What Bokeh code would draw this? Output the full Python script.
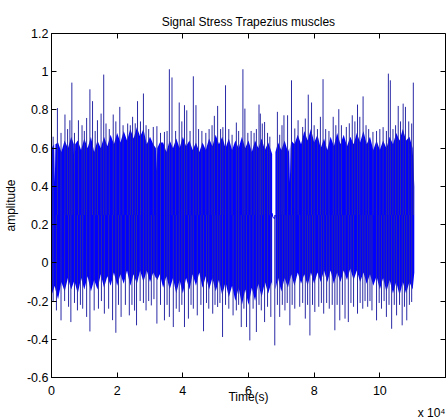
from bokeh.plotting import figure
from bokeh.models import Range1d, FixedTicker, LinearAxis, Title
from bokeh.embed import file_html
from bokeh.resources import INLINE

# ---- data (time in units of 10^4 samples) ----
title_text = "Signal Stress Trapezius muscles"
x_ticks = [0, 2, 4, 6, 8, 10, 12]
x_tick_labels = ["0", "2", "4", "6", "8", "10", ""]
y_ticks = [-0.6, -0.4, -0.2, 0, 0.2, 0.4, 0.6, 0.8, 1, 1.2]
y_tick_labels = ["-0.6", "-0.4", "-0.2", "0", "0.2", "0.4", "0.6", "0.8", "1", "1.2"]
x_multiplier_text = "x 10\u2074"

signal_mean = 0.25

# dense body of the signal, before the interruption
core1_t = [0.0, 0.08, 0.1, 0.12, 0.2, 0.3, 0.4, 0.5, 0.6, 0.68, 0.7, 0.72, 0.8, 0.9,
           1.0, 1.1, 1.2, 1.3, 1.4, 1.5, 1.6, 1.7, 1.8, 1.9,
           2.0, 2.1, 2.2, 2.3, 2.4, 2.5, 2.6, 2.7, 2.8, 2.9,
           3.0, 3.1, 3.18, 3.2, 3.22, 3.3, 3.4, 3.5, 3.6, 3.7, 3.8, 3.9,
           4.0, 4.1, 4.2, 4.3, 4.4, 4.5, 4.6, 4.7, 4.8, 4.9,
           5.0, 5.1, 5.2, 5.3, 5.4, 5.5, 5.6, 5.7, 5.8, 5.9,
           6.0, 6.1, 6.2, 6.3, 6.4, 6.5, 6.6, 6.7, 6.72]
core1_hi = [0.60, 0.62, 0.42, 0.62, 0.63, 0.58, 0.64, 0.60, 0.66, 0.62, 0.40, 0.62, 0.64, 0.59,
            0.65, 0.60, 0.66, 0.58, 0.64, 0.60, 0.66, 0.61, 0.67, 0.62,
            0.68, 0.63, 0.69, 0.64, 0.70, 0.65, 0.71, 0.66, 0.70, 0.62,
            0.66, 0.62, 0.60, 0.48, 0.60, 0.63, 0.63, 0.58, 0.64, 0.60, 0.65, 0.60,
            0.66, 0.61, 0.64, 0.59, 0.63, 0.58, 0.63, 0.59, 0.65, 0.61,
            0.67, 0.62, 0.66, 0.60, 0.65, 0.59, 0.64, 0.60, 0.66, 0.60,
            0.64, 0.58, 0.64, 0.60, 0.65, 0.59, 0.63, 0.58, 0.57]
core1_lo = [-0.17, -0.13, -0.12, -0.14, -0.19, -0.10, -0.15, -0.08, -0.14, -0.10, -0.09, -0.11, -0.16, -0.08,
            -0.14, -0.07, -0.15, -0.09, -0.14, -0.06, -0.13, -0.07, -0.12, -0.05,
            -0.12, -0.06, -0.11, -0.04, -0.12, -0.06, -0.11, -0.04, -0.10, -0.04,
            -0.10, -0.05, -0.08, -0.08, -0.09, -0.06, -0.13, -0.07, -0.14, -0.08, -0.16, -0.09,
            -0.16, -0.08, -0.14, -0.06, -0.12, -0.05, -0.13, -0.07, -0.14, -0.08,
            -0.15, -0.09, -0.17, -0.10, -0.18, -0.12, -0.20, -0.13, -0.22, -0.14,
            -0.22, -0.13, -0.20, -0.11, -0.18, -0.10, -0.16, -0.10, -0.12]
# dense body after the interruption
core2_t = [6.82, 6.9,
           7.0, 7.1, 7.2, 7.24, 7.26, 7.28, 7.3, 7.4, 7.5, 7.6, 7.7, 7.8, 7.9,
           8.0, 8.1, 8.2, 8.3, 8.4, 8.5, 8.6, 8.7, 8.8, 8.9,
           9.0, 9.1, 9.2, 9.3, 9.4, 9.5, 9.6, 9.7, 9.8, 9.9,
           10.0, 10.1, 10.2, 10.3, 10.4, 10.5, 10.6, 10.7, 10.8, 10.9,
           11.0, 11.05]
core2_hi = [0.58, 0.63,
            0.59, 0.64, 0.58, 0.60, 0.42, 0.60, 0.64, 0.62, 0.67, 0.62, 0.69, 0.64, 0.70,
            0.63, 0.67, 0.60, 0.65, 0.59, 0.66, 0.61, 0.68, 0.62, 0.67,
            0.61, 0.66, 0.62, 0.68, 0.63, 0.69, 0.62, 0.66, 0.59, 0.64,
            0.59, 0.64, 0.60, 0.66, 0.62, 0.68, 0.64, 0.70, 0.64, 0.66,
            0.60, 0.40]
core2_lo = [-0.14, -0.08,
            -0.15, -0.08, -0.13, -0.10, -0.09, -0.08, -0.06, -0.12, -0.05, -0.11, -0.06, -0.12, -0.05,
            -0.11, -0.05, -0.10, -0.04, -0.10, -0.04, -0.11, -0.05, -0.10, -0.04,
            -0.09, -0.03, -0.09, -0.04, -0.10, -0.05, -0.11, -0.06, -0.12, -0.07,
            -0.14, -0.08, -0.15, -0.09, -0.16, -0.10, -0.17, -0.10, -0.16, -0.10,
            -0.14, -0.05]
# flat stretch during the interruption
gap_t = [6.72, 6.74, 6.79, 6.82]
gap_v = [0.26, 0.24, 0.23, 0.25]

upper_t = [0.05, 0.18, 0.29, 0.41, 0.49, 0.56, 0.62, 0.70, 0.82, 0.93, 1.00, 1.07, 1.17, 1.25, 1.33, 1.40,
           1.51, 1.59, 1.66, 1.76, 1.88, 1.96, 2.08, 2.18, 2.32, 2.40, 2.47, 2.55, 2.62, 2.71, 2.80, 2.88,
           2.96, 3.10, 3.21, 3.32, 3.44, 3.52, 3.59, 3.67, 3.78, 3.89, 3.97, 4.05, 4.12, 4.22, 4.32, 4.40,
           4.48, 4.58, 4.70, 4.80, 4.89, 4.96, 5.06, 5.15, 5.22, 5.30, 5.40, 5.50, 5.63, 5.70, 5.83, 5.89,
           5.98, 6.08, 6.17, 6.24, 6.32, 6.36, 6.42, 6.49, 6.58, 6.65, 6.88, 6.95, 7.02, 7.08, 7.19, 7.31,
           7.41, 7.51, 7.65, 7.73, 7.82, 7.92, 8.00, 8.10, 8.19, 8.27, 8.35, 8.45, 8.58, 8.66, 8.75, 8.83,
           8.98, 9.07, 9.16, 9.24, 9.32, 9.39, 9.49, 9.58, 9.66, 9.79, 9.90, 10.00, 10.10, 10.20, 10.26,
           10.32, 10.40, 10.48, 10.56, 10.63, 10.71, 10.78, 10.88, 10.97, 11.02]
upper_v = [0.66, 0.81, 0.68, 0.776, 0.70, 0.746, 0.943, 0.68, 0.746, 0.72, 0.69, 0.758, 0.908, 0.846, 0.69, 0.746,
           0.781, 0.985, 0.729, 0.70, 0.776, 0.74, 0.816, 0.72, 0.729, 0.72, 0.764, 0.73, 0.846, 0.74, 0.886, 0.72,
           0.70, 0.711, 0.715, 0.68, 0.685, 0.69, 1.013, 0.97, 0.69, 0.839, 0.74, 0.825, 0.798, 0.69, 0.976, 0.825,
           0.70, 0.69, 0.68, 0.70, 0.72, 0.769, 0.821, 0.70, 0.71, 0.929, 0.70, 0.67, 0.734, 0.69, 1.013, 0.807,
           0.68, 0.69, 0.68, 0.70, 0.828, 0.781, 0.729, 0.737, 0.68, 0.66, 0.79, 0.67, 0.72, 0.772, 0.772, 0.955,
           0.703, 0.746, 0.711, 0.755, 0.88, 0.839, 0.72, 0.70, 0.764, 0.961, 0.70, 0.69, 0.764, 0.72, 0.804, 0.72,
           0.711, 0.73, 0.772, 0.74, 0.828, 0.764, 0.871, 0.72, 0.70, 0.685, 0.69, 0.70, 0.71, 0.69, 0.99,
           0.955, 0.70, 0.72, 0.821, 0.74, 0.833, 0.816, 0.74, 0.729, 0.943]

lower_t = [0.05, 0.15, 0.29, 0.40, 0.52, 0.59, 0.70, 0.79, 0.88, 0.95, 1.07, 1.17, 1.30, 1.43, 1.52, 1.61,
           1.74, 1.86, 1.96, 2.04, 2.12, 2.25, 2.37, 2.45, 2.53, 2.59, 2.70, 2.80, 2.88, 2.96, 3.04, 3.12,
           3.21, 3.32, 3.44, 3.52, 3.59, 3.71, 3.80, 3.89, 3.97, 4.05, 4.17, 4.25, 4.32, 4.44, 4.55, 4.63,
           4.72, 4.79, 4.91, 4.98, 5.06, 5.13, 5.21, 5.30, 5.40, 5.53, 5.63, 5.70, 5.78, 5.86, 5.94, 6.04,
           6.14, 6.24, 6.32, 6.39, 6.49, 6.58, 6.68, 6.80, 6.88, 6.95, 7.03, 7.11, 7.18, 7.26, 7.33, 7.41,
           7.56, 7.65, 7.73, 7.80, 7.87, 7.95, 8.02, 8.14, 8.22, 8.29, 8.38, 8.46, 8.55, 8.63, 8.70, 8.78,
           8.86, 8.94, 9.04, 9.12, 9.20, 9.32, 9.40, 9.48, 9.55, 9.63, 9.70, 9.76, 9.90, 9.98, 10.05, 10.13,
           10.20, 10.28, 10.36, 10.44, 10.51, 10.60, 10.68, 10.75, 10.82, 10.90, 10.97]
lower_v = [-0.205, -0.249, -0.301, -0.20, -0.23, -0.31, -0.21, -0.249, -0.22, -0.24, -0.283, -0.359, -0.249, -0.24, -0.20, -0.266,
           -0.24, -0.30, -0.366, -0.22, -0.283, -0.22, -0.275, -0.22, -0.25, -0.327, -0.20, -0.21, -0.249, -0.20, -0.223, -0.19,
           -0.318, -0.22, -0.301, -0.22, -0.283, -0.336, -0.24, -0.257, -0.22, -0.336, -0.292, -0.22, -0.24, -0.275, -0.22, -0.358,
           -0.21, -0.24, -0.266, -0.22, -0.231, -0.21, -0.388, -0.22, -0.24, -0.275, -0.249, -0.22, -0.336, -0.24, -0.336, -0.406,
           -0.24, -0.362, -0.22, -0.249, -0.31, -0.23, -0.283, -0.432, -0.22, -0.283, -0.22, -0.249, -0.21, -0.327, -0.22, -0.24,
           -0.23, -0.21, -0.292, -0.22, -0.38, -0.22, -0.257, -0.23, -0.21, -0.266, -0.21, -0.24, -0.22, -0.353, -0.22, -0.301,
           -0.22, -0.292, -0.31, -0.21, -0.23, -0.266, -0.21, -0.24, -0.20, -0.23, -0.20, -0.249, -0.301, -0.21, -0.24, -0.20,
           -0.283, -0.22, -0.345, -0.22, -0.275, -0.22, -0.327, -0.23, -0.301, -0.22, -0.205]

# ---- style ----
BLUE = "#0000ff"
SPIKE = "#2a2aa6"
FONT = "Liberation Sans"

p = figure(width=446, height=419, output_backend="svg", toolbar_location=None,
           x_range=Range1d(0, 12), y_range=Range1d(-0.6, 1.2),
           min_border_left=50, min_border_right=1, min_border_top=33, min_border_bottom=42)
p.xgrid.visible = False
p.ygrid.visible = False
p.outline_line_color = "black"
p.background_fill_color = "white"
p.border_fill_color = "white"

p.title.text = title_text
p.title.align = "center"
p.title.text_font = FONT
p.title.text_font_size = "12px"
p.title.text_font_style = "normal"
p.title.text_color = "#000000"

# signal
p.varea(x=core1_t, y1=core1_lo, y2=core1_hi, fill_color=BLUE)
p.varea(x=core2_t, y1=core2_lo, y2=core2_hi, fill_color=BLUE)
p.line(x=gap_t, y=gap_v, line_color=BLUE, line_width=1)
p.segment(x0=upper_t, y0=[signal_mean] * len(upper_t), x1=upper_t, y1=upper_v,
          line_color=SPIKE, line_width=1)
p.segment(x0=lower_t, y0=[signal_mean] * len(lower_t), x1=lower_t, y1=lower_v,
          line_color=SPIKE, line_width=1)

def style_axis(ax, ticks, labels, show_labels=True):
    ax.ticker = FixedTicker(ticks=ticks)
    ax.major_label_overrides = {t: l for t, l in zip(ticks, labels)}
    ax.major_tick_in = 5
    ax.major_tick_out = 0
    ax.minor_tick_in = 0
    ax.minor_tick_out = 0
    ax.axis_line_color = "black"
    ax.major_tick_line_color = "black"
    ax.major_label_text_font = FONT
    ax.major_label_text_color = "#000000"
    ax.axis_label_text_font = FONT
    ax.axis_label_text_font_size = "12px"
    ax.axis_label_text_font_style = "normal"
    ax.axis_label_text_color = "#000000"
    if show_labels:
        ax.major_label_text_font_size = "12.5px"
    else:
        ax.major_label_text_font_size = "0px"
        ax.major_label_standoff = 0

xa = p.xaxis[0]
style_axis(xa, x_ticks, x_tick_labels)
xa.axis_label = "Time(s)"
xa.major_label_standoff = 8
xa.axis_label_standoff = -8

ya = p.yaxis[0]
style_axis(ya, y_ticks, y_tick_labels)
ya.axis_label = "amplitude"
ya.major_label_standoff = 3
ya.axis_label_standoff = 6

ra = LinearAxis(fixed_location=12)
style_axis(ra, y_ticks, y_tick_labels, show_labels=False)
p.add_layout(ra, "right")
ta = LinearAxis(fixed_location=1.2)
style_axis(ta, x_ticks, x_tick_labels, show_labels=False)
p.add_layout(ta, "above")

mult = Title(text=x_multiplier_text, align="right", text_font=FONT, text_font_size="12px",
             text_font_style="normal", text_color="#000000", offset=0, standoff=-6)
p.add_layout(mult, "below")

open("out.html", "w").write(file_html(p, INLINE))
